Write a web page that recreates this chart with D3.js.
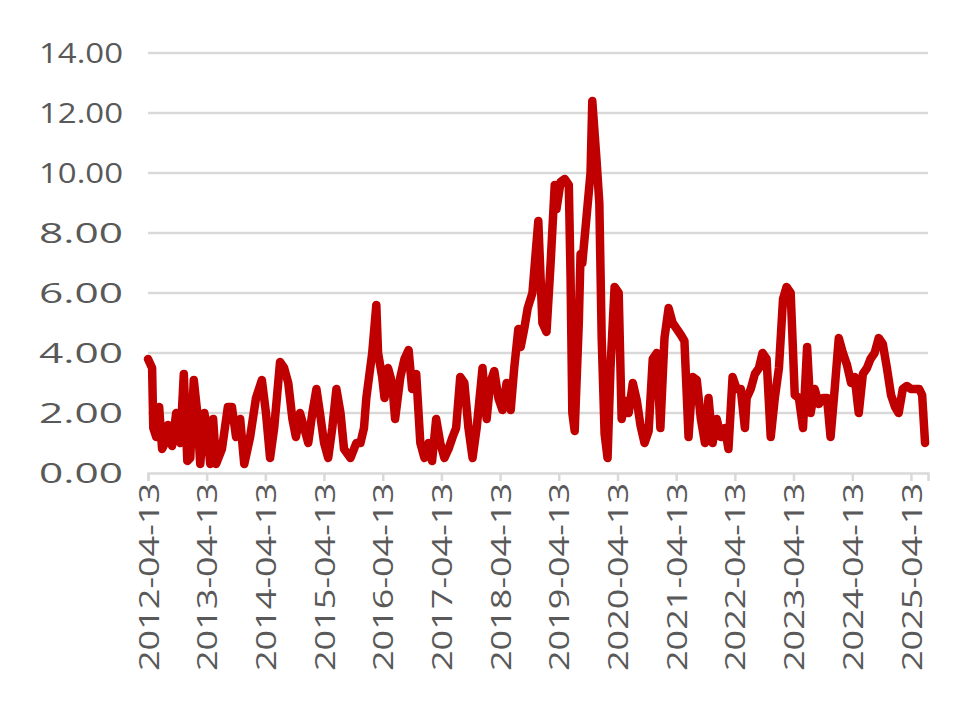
<!DOCTYPE html>
<html><head><meta charset="utf-8">
<script src="https://cdn.jsdelivr.net/npm/d3@7"></script>
<style>body{margin:0;background:#fff}</style></head>
<body><svg id="c" width="980" height="717"></svg>
<script>
// years elapsed since 2012-04-13
const tYears=[0,.07,.09,.14,.19,.24,.29,.34,.41,.48,.55,.61,.67,.72,.78,.84,.89,.96,1.01,1.06,1.11,1.16,1.26,1.36,1.43,1.50,1.57,1.64,1.74,1.84,1.94,2.01,2.08,2.15,2.25,2.32,2.39,2.46,2.52,2.59,2.66,2.73,2.80,2.87,2.93,3.00,3.07,3.14,3.21,3.28,3.34,3.45,3.55,3.62,3.68,3.72,3.82,3.89,3.92,3.99,4.03,4.09,4.16,4.21,4.30,4.37,4.44,4.50,4.57,4.64,4.71,4.78,4.84,4.91,4.98,5.05,5.12,5.19,5.25,5.32,5.39,5.46,5.53,5.60,5.70,5.77,5.83,5.90,5.97,6.04,6.11,6.18,6.24,6.31,6.35,6.41,6.47,6.55,6.65,6.72,6.79,6.86,6.93,6.96,7.03,7.10,7.17,7.20,7.23,7.27,7.34,7.37,7.40,7.47,7.54,7.57,7.64,7.69,7.73,7.78,7.83,7.88,7.95,8.02,8.07,8.14,8.19,8.26,8.33,8.39,8.46,8.53,8.60,8.67,8.73,8.80,8.87,8.94,9.01,9.08,9.14,9.21,9.28,9.35,9.42,9.49,9.55,9.62,9.69,9.76,9.83,9.89,9.96,10.03,10.10,10.17,10.20,10.27,10.34,10.41,10.47,10.54,10.61,10.68,10.75,10.82,10.88,10.95,11.02,11.09,11.16,11.23,11.29,11.36,11.43,11.50,11.57,11.63,11.70,11.77,11.84,11.91,11.98,12.04,12.11,12.18,12.25,12.31,12.38,12.45,12.52,12.59,12.66,12.73,12.79,12.86,12.93,13.00,13.07,13.14,13.19,13.24];
const values=[3.8,3.5,1.5,1.2,2.2,0.8,1.0,1.6,0.9,2.0,1.0,3.3,0.4,0.5,3.1,2.0,0.3,2.0,1.5,0.3,1.8,0.3,0.8,2.2,2.2,1.2,1.8,0.3,1.2,2.5,3.1,2.0,0.5,1.5,3.7,3.5,3.0,1.8,1.2,2.0,1.5,1.0,2.0,2.8,2.0,1.0,0.5,1.5,2.8,2.0,0.8,0.5,1.0,1.0,1.5,2.5,4.0,5.6,4.0,3.2,2.5,3.5,3.0,1.8,3.2,3.8,4.1,2.8,3.3,1.0,0.5,1.0,0.4,1.8,1.0,0.5,0.8,1.2,1.5,3.2,3.0,1.5,0.5,1.5,3.5,1.8,3.0,3.4,2.5,2.1,3.0,2.1,3.5,4.8,4.2,4.8,5.5,6.0,8.4,5.0,4.7,7.0,9.6,8.8,9.7,9.8,9.6,6.5,2.0,1.4,5.0,7.3,7.0,8.5,10.0,12.4,10.5,9.0,4.5,1.3,0.5,3.5,6.2,6.0,1.8,2.4,2.0,3.0,2.4,1.6,1.0,1.4,3.8,4.0,1.5,4.5,5.5,5.0,4.8,4.6,4.4,1.2,3.2,3.1,1.8,1.0,2.5,1.0,1.8,1.2,1.5,0.8,3.2,2.8,2.8,1.5,2.5,2.8,3.3,3.5,4.0,3.8,1.2,2.5,3.5,5.8,6.2,6.0,2.6,2.5,1.5,4.2,2.0,2.8,2.3,2.5,2.5,1.2,2.8,4.5,4.0,3.6,3.0,3.2,2.0,3.3,3.5,3.8,4.0,4.5,4.3,3.5,2.6,2.2,2.0,2.8,2.9,2.8,2.8,2.8,2.6,1.0];
const xTickLabels=["2012-04-13","2013-04-13","2014-04-13","2015-04-13","2016-04-13","2017-04-13","2018-04-13","2019-04-13","2020-04-13","2021-04-13","2022-04-13","2023-04-13","2024-04-13","2025-04-13"];
const yTicks=[0,2,4,6,8,10,12,14];

const parse=d3.timeParse("%Y-%m-%d");
const start=parse("2012-04-13");
const data=tYears.map((t,i)=>({d:new Date(+start+t*365.25*864e5),v:values[i]}));
const svg=d3.select("#c");
const x=d3.scaleTime().domain([start,new Date(+start+13.29*365.25*864e5)]).range([148,928]);
const y=d3.scaleLinear().domain([0,14]).range([473,53]);
const font="'Open Sans', sans-serif";

svg.append("g").selectAll("line").data(yTicks.slice(1)).join("line")
 .attr("x1",148).attr("x2",928).attr("y1",d=>y(d)).attr("y2",d=>y(d))
 .attr("stroke","#d9d9d9").attr("stroke-width",2.5);
svg.append("g").selectAll("text").data(yTicks).join("text")
 .attr("x",123).attr("y",d=>y(d)).attr("dy","0.36em").attr("text-anchor","end")
 .attr("fill","#595959").attr("font-family",font).attr("font-size",28)
 .attr("textLength",84).attr("lengthAdjust","spacingAndGlyphs")
 .text(d=>d.toFixed(2));

const xa=svg.append("g").attr("transform","translate(0,473)")
 .call(d3.axisBottom(x).tickValues(xTickLabels.map(parse)).tickSize(8).tickFormat(d3.timeFormat("%Y-%m-%d")));
xa.select(".domain").attr("stroke","#d9d9d9").attr("stroke-width",2.5);
xa.selectAll(".tick line").attr("stroke","#d9d9d9").attr("stroke-width",2.5);
xa.selectAll(".tick text").attr("fill","#595959").attr("font-family",font).attr("font-size",28)
 .attr("textLength",188).attr("lengthAdjust","spacingAndGlyphs")
 .attr("transform","rotate(-90)").attr("text-anchor","end").attr("x",-10).attr("y",0).attr("dy","0.36em");

svg.append("path").datum(data)
 .attr("d",d3.line().x(d=>x(d.d)).y(d=>y(d.v)))
 .attr("fill","none").attr("stroke","#c00000").attr("stroke-width",8.5).attr("stroke-linejoin","round").attr("stroke-linecap","round");
</script></body></html>
